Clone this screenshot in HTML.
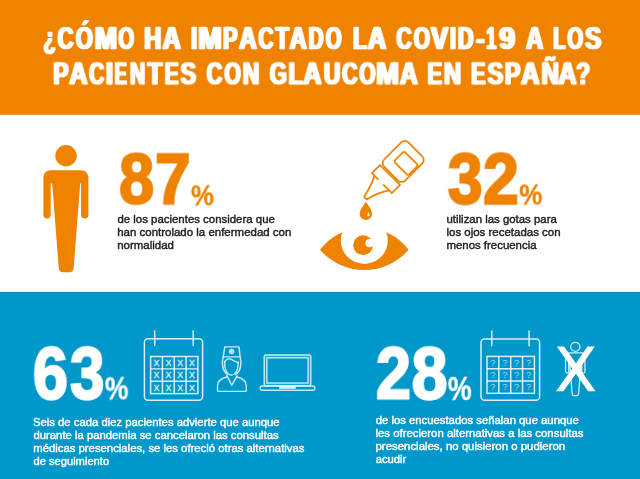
<!DOCTYPE html>
<html><head><meta charset="utf-8">
<style>
html,body{margin:0;padding:0;}
body{width:640px;height:479px;position:relative;overflow:hidden;background:#fff;font-family:"Liberation Sans",sans-serif;}
.abs{position:absolute;}
.x{position:absolute;left:0;top:0;white-space:nowrap;transform-origin:0 0;will-change:transform;}
#hdr{left:0;top:0;width:640px;height:114px;background:#EF8300;}
#hdrsh{left:0;top:114px;width:640px;height:2px;background:linear-gradient(#d98f2c 0%,#e8ab55 45%,#fcefd6 55%,#fffdf8 100%);}
#blue{left:0;top:292px;width:640px;height:187px;background:#0097CB;}
#bluesh{left:0;top:291px;width:640px;height:2px;background:linear-gradient(#f4fafc 0%,#cfe8f1 45%,#2a86ad 55%,#0b82b3 100%);}
svg{position:absolute;left:0;top:0;}
</style></head><body>
<div class="abs" id="hdr"></div>
<div class="abs" id="hdrsh"></div>
<div class="abs" id="blue"></div>
<div class="abs" id="bluesh"></div>
<svg width="640" height="479" viewBox="0 0 640 479">
<defs>
<g id="person"><circle cx="66.0" cy="155.7" r="10.7"/><path d="M50.3,170.2 H81.5 A6.9,6.9 0 0 1 88.4,177.1 V214.75 A3.65,3.65 0 0 1 81.1,214.75 V183.4 H80.2 L73.7,267.5 Q73.4,272.2 69.5,272.2 H62.9 Q59,272.2 58.7,267.5 L52.2,183.4 H50.7 V214.75 A3.65,3.65 0 0 1 43.4,214.75 V177.1 A6.9,6.9 0 0 1 50.3,170.2 Z"/></g>
</defs>
<!-- orange person -->
<use href="#person" fill="#EF8300"/>

<!-- bottle -->
<g transform="translate(366.2,196.7) rotate(-45)" fill="none" stroke="#EF8300" stroke-width="1.75" stroke-linejoin="round">
<path d="M20.7,-9.2 C16,-6.2 8,-3.6 0.4,-1.9 A2.4,2.4 0 0 0 0.4,2.9 C7,4.2 15,8 20.7,11.8"/>
<path d="M20.7,-3.5 V-12.6 H32.2 V15.6 H20.7 V3.3"/>
<rect x="34.0" y="-13.6" width="34.2" height="29.7" rx="5"/>
<rect x="44.5" y="-5.4" width="14.5" height="20" rx="2"/>
</g>
<!-- eye -->
<path d="M320,249.8 A55.6,55.6 0 0 1 408.6,249.8 A58.5,58.5 0 0 1 320,249.8 Z" fill="#EF8300"/>
<circle cx="364.3" cy="240.4" r="23.5" fill="#fff"/>
<circle cx="363.1" cy="245.2" r="9.9" fill="#EF8300"/>
<circle cx="369.6" cy="243.2" r="4.1" fill="#fff"/>

<!-- drop -->
<path d="M365.9,201.5 C364.5,204.5 359.7,209.5 359.7,213.9 A6.2,6.2 0 0 0 372.1,213.9 C372.1,209.5 367.3,204.5 365.9,201.5 Z" fill="#EF8300"/>
<path d="M368.4,212 C367.7,213.5 367.3,214.6 367.3,215.3 A1.1,1.1 0 0 0 369.5,215.3 C369.5,214.6 369.1,213.5 368.4,212 Z" fill="#fff"/>
<!-- calendar 1 -->
<g fill="none" stroke="rgba(255,255,255,0.86)" stroke-width="1.45"><rect x="144.4" y="338.7" width="58.20" height="61.50" rx="3.6"/><path d="M154.7,330.9 V345.4" stroke-linecap="round"/><path d="M193.2,330.9 V345.4" stroke-linecap="round"/><rect x="150.6" y="356.5" width="47.30" height="37.10"/><path d="M162.43,356.5 V393.6"/><path d="M174.25,356.5 V393.6"/><path d="M186.07,356.5 V393.6"/><path d="M150.6,368.87 H197.9"/><path d="M150.6,381.23 H197.9"/></g><g fill="rgba(255,255,255,0.86)" font-family="Liberation Sans" font-size="8.8" font-weight="normal" text-anchor="middle" stroke="rgba(255,255,255,0.86)" stroke-width="0.3" opacity="0.95"><text x="156.51" y="365.83">X</text><text x="168.34" y="365.83">X</text><text x="180.16" y="365.83">X</text><text x="191.99" y="365.83">X</text><text x="156.51" y="378.20">X</text><text x="168.34" y="378.20">X</text><text x="180.16" y="378.20">X</text><text x="191.99" y="378.20">X</text><text x="156.51" y="390.57">X</text><text x="168.34" y="390.57">X</text><text x="180.16" y="390.57">X</text><text x="191.99" y="390.57">X</text></g>
<!-- nurse -->
<g fill="none" stroke="rgba(255,255,255,0.8)" stroke-width="1.4" stroke-linejoin="round" stroke-linecap="round">
<path d="M224.8,346.9 H239 L240.1,356.9 H223.2 Z"/>
<circle cx="231.6" cy="351.5" r="2"/>
<path d="M231.6,350.3 V352.7 M230.4,351.5 H232.8" stroke-width="0.8"/>
<path d="M223.2,356.9 C222.3,360 222.2,364 222.8,367 C223.5,370.5 225.5,373 227.5,374.5"/>
<path d="M240.1,356.9 C241,360 241.1,364 240.5,367 C239.8,370.5 237.8,373 235.7,374.5"/>
<path d="M224.6,362 C224.2,368.5 227,375 231.5,375 C236,375 238.6,368.5 238.2,362.5"/>
<path d="M224.6,362 C226,359.3 228.5,358.4 230.8,359.2 C233.5,360.4 236,362 238.2,362.5"/>

<path d="M226.8,375.6 L231.8,385.2 L237.2,375.8"/>
<path d="M227.5,376.8 C222,378 217.5,380.5 217.5,386 V390.4 Q217.5,391.4 218.5,391.4 H245.3 Q246.3,391.4 246.3,390.4 V386 C246.3,380.5 241.8,378 236.3,376.8"/>
</g>
<!-- laptop -->
<g fill="none" stroke="rgba(255,255,255,0.78)" stroke-width="1.4">
<rect x="264.2" y="355" width="46.6" height="30.8" rx="1.4" fill="rgba(255,255,255,0.12)"/>
<rect x="266.9" y="357.8" width="41.2" height="25.2" fill="#0097CB"/>
<rect x="260.2" y="386" width="54.7" height="4.3" rx="2"/>
<rect x="279.1" y="386.6" width="16.7" height="2.2" fill="rgba(255,255,255,0.86)" stroke="none"/>
</g>

<!-- calendar 2 -->
<g fill="none" stroke="rgba(255,255,255,0.86)" stroke-width="1.45"><rect x="481" y="339.0" width="58.60" height="61.20" rx="3.6"/><path d="M491.8,330.9 V345.8" stroke-linecap="round"/><path d="M529.1,330.9 V345.8" stroke-linecap="round"/><rect x="487.0" y="356.4" width="47.40" height="36.90"/><path d="M498.85,356.4 V393.3"/><path d="M510.70,356.4 V393.3"/><path d="M522.55,356.4 V393.3"/><path d="M487.0,368.70 H534.4"/><path d="M487.0,381.00 H534.4"/></g><g fill="rgba(255,255,255,0.86)" font-family="Liberation Sans" font-size="9.2" font-weight="normal" text-anchor="middle" stroke="rgba(255,255,255,0.86)" stroke-width="0.0" opacity="0.75"><text x="492.93" y="365.85">?</text><text x="504.77" y="365.85">?</text><text x="516.62" y="365.85">?</text><text x="528.48" y="365.85">?</text><text x="492.93" y="378.15">?</text><text x="504.77" y="378.15">?</text><text x="516.62" y="378.15">?</text><text x="528.48" y="378.15">?</text><text x="492.93" y="390.45">?</text><text x="504.77" y="390.45">?</text><text x="516.62" y="390.45">?</text><text x="528.48" y="390.45">?</text></g>
<!-- crossed person -->
<g transform="translate(546.92,281.4) scale(0.43,0.42)" fill="none" stroke="rgba(255,255,255,0.85)" stroke-width="2.9"><use href="#person"/></g>
<path d="M556.8,346.4 H564.1 L575.9,363.3 L587.5,346.4 H594.8 L579.6,368.6 L595.5,391.3 H588.2 L575.9,373.8 L563.4,391.3 H556 L572.2,368.6 Z" fill="#fff"/>
</svg>
<div class="x" style="font-size:29px;line-height:29px;font-weight:bold;color:#fff;transform:translate(43.34px,24.16px) scale(0.7040,1.0511);-webkit-text-stroke:0.7px currentColor;text-shadow:0.75px 0 0 currentColor,-0.75px 0 0 currentColor,1.5px 0 0 currentColor,-1.5px 0 0 currentColor;">¿</div>
<div class="x" style="font-size:29px;line-height:29px;font-weight:bold;color:#fff;transform:translate(57.60px,24.16px) scale(0.7567,1.0511);-webkit-text-stroke:0.7px currentColor;text-shadow:0.75px 0 0 currentColor,-0.75px 0 0 currentColor,1.5px 0 0 currentColor,-1.5px 0 0 currentColor;">C</div>
<div class="x" style="font-size:29px;line-height:29px;font-weight:bold;color:#fff;transform:translate(75.76px,24.16px) scale(0.7575,1.0511);-webkit-text-stroke:0.7px currentColor;text-shadow:0.75px 0 0 currentColor,-0.75px 0 0 currentColor,1.5px 0 0 currentColor,-1.5px 0 0 currentColor;">Ó</div>
<div class="x" style="font-size:29px;line-height:29px;font-weight:bold;color:#fff;transform:translate(94.74px,24.16px) scale(0.9197,1.0511);-webkit-text-stroke:0.7px currentColor;text-shadow:0.75px 0 0 currentColor,-0.75px 0 0 currentColor,1.5px 0 0 currentColor,-1.5px 0 0 currentColor;">M</div>
<div class="x" style="font-size:29px;line-height:29px;font-weight:bold;color:#fff;transform:translate(118.46px,24.16px) scale(0.6893,1.0511);-webkit-text-stroke:0.7px currentColor;text-shadow:0.75px 0 0 currentColor,-0.75px 0 0 currentColor,1.5px 0 0 currentColor,-1.5px 0 0 currentColor;">O</div>
<div class="x" style="font-size:29px;line-height:29px;font-weight:bold;color:#fff;transform:translate(144.28px,24.16px) scale(0.8089,1.0511);-webkit-text-stroke:0.7px currentColor;text-shadow:0.75px 0 0 currentColor,-0.75px 0 0 currentColor,1.5px 0 0 currentColor,-1.5px 0 0 currentColor;">H</div>
<div class="x" style="font-size:29px;line-height:29px;font-weight:bold;color:#fff;transform:translate(162.66px,24.16px) scale(0.8602,1.0511);-webkit-text-stroke:0.7px currentColor;text-shadow:0.75px 0 0 currentColor,-0.75px 0 0 currentColor,1.5px 0 0 currentColor,-1.5px 0 0 currentColor;">A</div>
<div class="x" style="font-size:29px;line-height:29px;font-weight:bold;color:#fff;transform:translate(190.93px,24.16px) scale(0.7840,1.0511);-webkit-text-stroke:0.7px currentColor;text-shadow:0.75px 0 0 currentColor,-0.75px 0 0 currentColor,1.5px 0 0 currentColor,-1.5px 0 0 currentColor;">I</div>
<div class="x" style="font-size:29px;line-height:29px;font-weight:bold;color:#fff;transform:translate(198.40px,24.16px) scale(0.9640,1.0511);-webkit-text-stroke:0.7px currentColor;text-shadow:0.75px 0 0 currentColor,-0.75px 0 0 currentColor,1.5px 0 0 currentColor,-1.5px 0 0 currentColor;">M</div>
<div class="x" style="font-size:29px;line-height:29px;font-weight:bold;color:#fff;transform:translate(223.00px,24.16px) scale(0.7487,1.0511);-webkit-text-stroke:0.7px currentColor;text-shadow:0.75px 0 0 currentColor,-0.75px 0 0 currentColor,1.5px 0 0 currentColor,-1.5px 0 0 currentColor;">P</div>
<div class="x" style="font-size:29px;line-height:29px;font-weight:bold;color:#fff;transform:translate(239.15px,24.16px) scale(0.8389,1.0511);-webkit-text-stroke:0.7px currentColor;text-shadow:0.75px 0 0 currentColor,-0.75px 0 0 currentColor,1.5px 0 0 currentColor,-1.5px 0 0 currentColor;">A</div>
<div class="x" style="font-size:29px;line-height:29px;font-weight:bold;color:#fff;transform:translate(258.51px,24.16px) scale(0.7171,1.0511);-webkit-text-stroke:0.7px currentColor;text-shadow:0.75px 0 0 currentColor,-0.75px 0 0 currentColor,1.5px 0 0 currentColor,-1.5px 0 0 currentColor;">C</div>
<div class="x" style="font-size:29px;line-height:29px;font-weight:bold;color:#fff;transform:translate(275.54px,24.16px) scale(0.7492,1.0511);-webkit-text-stroke:0.7px currentColor;text-shadow:0.75px 0 0 currentColor,-0.75px 0 0 currentColor,1.5px 0 0 currentColor,-1.5px 0 0 currentColor;">T</div>
<div class="x" style="font-size:29px;line-height:29px;font-weight:bold;color:#fff;transform:translate(289.59px,24.16px) scale(0.8185,1.0511);-webkit-text-stroke:0.7px currentColor;text-shadow:0.75px 0 0 currentColor,-0.75px 0 0 currentColor,1.5px 0 0 currentColor,-1.5px 0 0 currentColor;">A</div>
<div class="x" style="font-size:29px;line-height:29px;font-weight:bold;color:#fff;transform:translate(308.57px,24.16px) scale(0.7134,1.0511);-webkit-text-stroke:0.7px currentColor;text-shadow:0.75px 0 0 currentColor,-0.75px 0 0 currentColor,1.5px 0 0 currentColor,-1.5px 0 0 currentColor;">D</div>
<div class="x" style="font-size:29px;line-height:29px;font-weight:bold;color:#fff;transform:translate(325.73px,24.16px) scale(0.7030,1.0511);-webkit-text-stroke:0.7px currentColor;text-shadow:0.75px 0 0 currentColor,-0.75px 0 0 currentColor,1.5px 0 0 currentColor,-1.5px 0 0 currentColor;">O</div>
<div class="x" style="font-size:29px;line-height:29px;font-weight:bold;color:#fff;transform:translate(352.92px,24.16px) scale(0.7846,1.0511);-webkit-text-stroke:0.7px currentColor;text-shadow:0.75px 0 0 currentColor,-0.75px 0 0 currentColor,1.5px 0 0 currentColor,-1.5px 0 0 currentColor;">L</div>
<div class="x" style="font-size:29px;line-height:29px;font-weight:bold;color:#fff;transform:translate(367.68px,24.16px) scale(0.8826,1.0511);-webkit-text-stroke:0.7px currentColor;text-shadow:0.75px 0 0 currentColor,-0.75px 0 0 currentColor,1.5px 0 0 currentColor,-1.5px 0 0 currentColor;">A</div>
<div class="x" style="font-size:29px;line-height:29px;font-weight:bold;color:#fff;transform:translate(396.44px,24.16px) scale(0.7288,1.0511);-webkit-text-stroke:0.7px currentColor;text-shadow:0.75px 0 0 currentColor,-0.75px 0 0 currentColor,1.5px 0 0 currentColor,-1.5px 0 0 currentColor;">C</div>
<div class="x" style="font-size:29px;line-height:29px;font-weight:bold;color:#fff;transform:translate(413.74px,24.16px) scale(0.7190,1.0511);-webkit-text-stroke:0.7px currentColor;text-shadow:0.75px 0 0 currentColor,-0.75px 0 0 currentColor,1.5px 0 0 currentColor,-1.5px 0 0 currentColor;">O</div>
<div class="x" style="font-size:29px;line-height:29px;font-weight:bold;color:#fff;transform:translate(431.07px,24.16px) scale(0.8765,1.0511);-webkit-text-stroke:0.7px currentColor;text-shadow:0.75px 0 0 currentColor,-0.75px 0 0 currentColor,1.5px 0 0 currentColor,-1.5px 0 0 currentColor;">V</div>
<div class="x" style="font-size:29px;line-height:29px;font-weight:bold;color:#fff;transform:translate(449.84px,24.16px) scale(0.7738,1.0511);-webkit-text-stroke:0.7px currentColor;text-shadow:0.75px 0 0 currentColor,-0.75px 0 0 currentColor,1.5px 0 0 currentColor,-1.5px 0 0 currentColor;">I</div>
<div class="x" style="font-size:29px;line-height:29px;font-weight:bold;color:#fff;transform:translate(457.71px,24.16px) scale(0.7563,1.0511);-webkit-text-stroke:0.7px currentColor;text-shadow:0.75px 0 0 currentColor,-0.75px 0 0 currentColor,1.5px 0 0 currentColor,-1.5px 0 0 currentColor;">D</div>
<div class="x" style="font-size:29px;line-height:29px;font-weight:bold;color:#fff;transform:translate(476.21px,24.16px) scale(0.8491,1.0511);-webkit-text-stroke:0.7px currentColor;text-shadow:0.75px 0 0 currentColor,-0.75px 0 0 currentColor,1.5px 0 0 currentColor,-1.5px 0 0 currentColor;">-</div>
<div class="x" style="font-size:29px;line-height:29px;font-weight:bold;color:#fff;transform:translate(486.22px,24.16px) scale(0.6240,1.0511);-webkit-text-stroke:0.7px currentColor;text-shadow:0.75px 0 0 currentColor,-0.75px 0 0 currentColor,1.5px 0 0 currentColor,-1.5px 0 0 currentColor;">1</div>
<div class="x" style="font-size:29px;line-height:29px;font-weight:bold;color:#fff;transform:translate(499.26px,24.16px) scale(0.9721,1.0511);-webkit-text-stroke:0.7px currentColor;text-shadow:0.75px 0 0 currentColor,-0.75px 0 0 currentColor,1.5px 0 0 currentColor,-1.5px 0 0 currentColor;">9</div>
<div class="x" style="font-size:29px;line-height:29px;font-weight:bold;color:#fff;transform:translate(526.00px,24.16px) scale(0.8233,1.0511);-webkit-text-stroke:0.7px currentColor;text-shadow:0.75px 0 0 currentColor,-0.75px 0 0 currentColor,1.5px 0 0 currentColor,-1.5px 0 0 currentColor;">A</div>
<div class="x" style="font-size:29px;line-height:29px;font-weight:bold;color:#fff;transform:translate(553.19px,24.16px) scale(0.6855,1.0511);-webkit-text-stroke:0.7px currentColor;text-shadow:0.75px 0 0 currentColor,-0.75px 0 0 currentColor,1.5px 0 0 currentColor,-1.5px 0 0 currentColor;">L</div>
<div class="x" style="font-size:29px;line-height:29px;font-weight:bold;color:#fff;transform:translate(567.46px,24.16px) scale(0.6917,1.0511);-webkit-text-stroke:0.7px currentColor;text-shadow:0.75px 0 0 currentColor,-0.75px 0 0 currentColor,1.5px 0 0 currentColor,-1.5px 0 0 currentColor;">O</div>
<div class="x" style="font-size:29px;line-height:29px;font-weight:bold;color:#fff;transform:translate(585.22px,24.16px) scale(0.8311,1.0511);-webkit-text-stroke:0.7px currentColor;text-shadow:0.75px 0 0 currentColor,-0.75px 0 0 currentColor,1.5px 0 0 currentColor,-1.5px 0 0 currentColor;">S</div>
<div class="x" style="font-size:30.5px;line-height:30.5px;font-weight:bold;color:#fff;transform:translate(53.33px,57.36px) scale(0.7491,1.0184);-webkit-text-stroke:0.7px currentColor;text-shadow:0.75px 0 0 currentColor,-0.75px 0 0 currentColor,1.5px 0 0 currentColor,-1.5px 0 0 currentColor;">P</div>
<div class="x" style="font-size:30.5px;line-height:30.5px;font-weight:bold;color:#fff;transform:translate(69.30px,57.36px) scale(0.8271,1.0184);-webkit-text-stroke:0.7px currentColor;text-shadow:0.75px 0 0 currentColor,-0.75px 0 0 currentColor,1.5px 0 0 currentColor,-1.5px 0 0 currentColor;">A</div>
<div class="x" style="font-size:30.5px;line-height:30.5px;font-weight:bold;color:#fff;transform:translate(89.10px,57.36px) scale(0.6905,1.0184);-webkit-text-stroke:0.7px currentColor;text-shadow:0.75px 0 0 currentColor,-0.75px 0 0 currentColor,1.5px 0 0 currentColor,-1.5px 0 0 currentColor;">C</div>
<div class="x" style="font-size:30.5px;line-height:30.5px;font-weight:bold;color:#fff;transform:translate(105.81px,57.36px) scale(0.8525,1.0184);-webkit-text-stroke:0.7px currentColor;text-shadow:0.75px 0 0 currentColor,-0.75px 0 0 currentColor,1.5px 0 0 currentColor,-1.5px 0 0 currentColor;">I</div>
<div class="x" style="font-size:30.5px;line-height:30.5px;font-weight:bold;color:#fff;transform:translate(114.62px,57.36px) scale(0.6047,1.0184);-webkit-text-stroke:0.7px currentColor;text-shadow:0.75px 0 0 currentColor,-0.75px 0 0 currentColor,1.5px 0 0 currentColor,-1.5px 0 0 currentColor;">E</div>
<div class="x" style="font-size:30.5px;line-height:30.5px;font-weight:bold;color:#fff;transform:translate(129.90px,57.36px) scale(0.6964,1.0184);-webkit-text-stroke:0.7px currentColor;text-shadow:0.75px 0 0 currentColor,-0.75px 0 0 currentColor,1.5px 0 0 currentColor,-1.5px 0 0 currentColor;">N</div>
<div class="x" style="font-size:30.5px;line-height:30.5px;font-weight:bold;color:#fff;transform:translate(147.60px,57.36px) scale(0.7839,1.0184);-webkit-text-stroke:0.7px currentColor;text-shadow:0.75px 0 0 currentColor,-0.75px 0 0 currentColor,1.5px 0 0 currentColor,-1.5px 0 0 currentColor;">T</div>
<div class="x" style="font-size:30.5px;line-height:30.5px;font-weight:bold;color:#fff;transform:translate(164.73px,57.36px) scale(0.6850,1.0184);-webkit-text-stroke:0.7px currentColor;text-shadow:0.75px 0 0 currentColor,-0.75px 0 0 currentColor,1.5px 0 0 currentColor,-1.5px 0 0 currentColor;">E</div>
<div class="x" style="font-size:30.5px;line-height:30.5px;font-weight:bold;color:#fff;transform:translate(180.57px,57.36px) scale(0.7595,1.0184);-webkit-text-stroke:0.7px currentColor;text-shadow:0.75px 0 0 currentColor,-0.75px 0 0 currentColor,1.5px 0 0 currentColor,-1.5px 0 0 currentColor;">S</div>
<div class="x" style="font-size:30.5px;line-height:30.5px;font-weight:bold;color:#fff;transform:translate(206.66px,57.36px) scale(0.7102,1.0184);-webkit-text-stroke:0.7px currentColor;text-shadow:0.75px 0 0 currentColor,-0.75px 0 0 currentColor,1.5px 0 0 currentColor,-1.5px 0 0 currentColor;">C</div>
<div class="x" style="font-size:30.5px;line-height:30.5px;font-weight:bold;color:#fff;transform:translate(224.38px,57.36px) scale(0.6951,1.0184);-webkit-text-stroke:0.7px currentColor;text-shadow:0.75px 0 0 currentColor,-0.75px 0 0 currentColor,1.5px 0 0 currentColor,-1.5px 0 0 currentColor;">O</div>
<div class="x" style="font-size:30.5px;line-height:30.5px;font-weight:bold;color:#fff;transform:translate(242.73px,57.36px) scale(0.7527,1.0184);-webkit-text-stroke:0.7px currentColor;text-shadow:0.75px 0 0 currentColor,-0.75px 0 0 currentColor,1.5px 0 0 currentColor,-1.5px 0 0 currentColor;">N</div>
<div class="x" style="font-size:30.5px;line-height:30.5px;font-weight:bold;color:#fff;transform:translate(269.74px,57.36px) scale(0.7240,1.0184);-webkit-text-stroke:0.7px currentColor;text-shadow:0.75px 0 0 currentColor,-0.75px 0 0 currentColor,1.5px 0 0 currentColor,-1.5px 0 0 currentColor;">G</div>
<div class="x" style="font-size:30.5px;line-height:30.5px;font-weight:bold;color:#fff;transform:translate(288.53px,57.36px) scale(0.7538,1.0184);-webkit-text-stroke:0.7px currentColor;text-shadow:0.75px 0 0 currentColor,-0.75px 0 0 currentColor,1.5px 0 0 currentColor,-1.5px 0 0 currentColor;">L</div>
<div class="x" style="font-size:30.5px;line-height:30.5px;font-weight:bold;color:#fff;transform:translate(303.13px,57.36px) scale(0.8340,1.0184);-webkit-text-stroke:0.7px currentColor;text-shadow:0.75px 0 0 currentColor,-0.75px 0 0 currentColor,1.5px 0 0 currentColor,-1.5px 0 0 currentColor;">A</div>
<div class="x" style="font-size:30.5px;line-height:30.5px;font-weight:bold;color:#fff;transform:translate(323.75px,57.36px) scale(0.7548,1.0184);-webkit-text-stroke:0.7px currentColor;text-shadow:0.75px 0 0 currentColor,-0.75px 0 0 currentColor,1.5px 0 0 currentColor,-1.5px 0 0 currentColor;">U</div>
<div class="x" style="font-size:30.5px;line-height:30.5px;font-weight:bold;color:#fff;transform:translate(342.14px,57.36px) scale(0.7019,1.0184);-webkit-text-stroke:0.7px currentColor;text-shadow:0.75px 0 0 currentColor,-0.75px 0 0 currentColor,1.5px 0 0 currentColor,-1.5px 0 0 currentColor;">C</div>
<div class="x" style="font-size:30.5px;line-height:30.5px;font-weight:bold;color:#fff;transform:translate(359.32px,57.36px) scale(0.6838,1.0184);-webkit-text-stroke:0.7px currentColor;text-shadow:0.75px 0 0 currentColor,-0.75px 0 0 currentColor,1.5px 0 0 currentColor,-1.5px 0 0 currentColor;">O</div>
<div class="x" style="font-size:30.5px;line-height:30.5px;font-weight:bold;color:#fff;transform:translate(376.32px,57.36px) scale(0.8881,1.0184);-webkit-text-stroke:0.7px currentColor;text-shadow:0.75px 0 0 currentColor,-0.75px 0 0 currentColor,1.5px 0 0 currentColor,-1.5px 0 0 currentColor;">M</div>
<div class="x" style="font-size:30.5px;line-height:30.5px;font-weight:bold;color:#fff;transform:translate(399.90px,57.36px) scale(0.8076,1.0184);-webkit-text-stroke:0.7px currentColor;text-shadow:0.75px 0 0 currentColor,-0.75px 0 0 currentColor,1.5px 0 0 currentColor,-1.5px 0 0 currentColor;">A</div>
<div class="x" style="font-size:30.5px;line-height:30.5px;font-weight:bold;color:#fff;transform:translate(427.53px,57.36px) scale(0.7127,1.0184);-webkit-text-stroke:0.7px currentColor;text-shadow:0.75px 0 0 currentColor,-0.75px 0 0 currentColor,1.5px 0 0 currentColor,-1.5px 0 0 currentColor;">E</div>
<div class="x" style="font-size:30.5px;line-height:30.5px;font-weight:bold;color:#fff;transform:translate(443.87px,57.36px) scale(0.7814,1.0184);-webkit-text-stroke:0.7px currentColor;text-shadow:0.75px 0 0 currentColor,-0.75px 0 0 currentColor,1.5px 0 0 currentColor,-1.5px 0 0 currentColor;">N</div>
<div class="x" style="font-size:30.5px;line-height:30.5px;font-weight:bold;color:#fff;transform:translate(471.04px,57.36px) scale(0.7107,1.0184);-webkit-text-stroke:0.7px currentColor;text-shadow:0.75px 0 0 currentColor,-0.75px 0 0 currentColor,1.5px 0 0 currentColor,-1.5px 0 0 currentColor;">E</div>
<div class="x" style="font-size:30.5px;line-height:30.5px;font-weight:bold;color:#fff;transform:translate(487.57px,57.36px) scale(0.7724,1.0184);-webkit-text-stroke:0.7px currentColor;text-shadow:0.75px 0 0 currentColor,-0.75px 0 0 currentColor,1.5px 0 0 currentColor,-1.5px 0 0 currentColor;">S</div>
<div class="x" style="font-size:30.5px;line-height:30.5px;font-weight:bold;color:#fff;transform:translate(504.88px,57.36px) scale(0.7608,1.0184);-webkit-text-stroke:0.7px currentColor;text-shadow:0.75px 0 0 currentColor,-0.75px 0 0 currentColor,1.5px 0 0 currentColor,-1.5px 0 0 currentColor;">P</div>
<div class="x" style="font-size:30.5px;line-height:30.5px;font-weight:bold;color:#fff;transform:translate(521.13px,57.36px) scale(0.8349,1.0184);-webkit-text-stroke:0.7px currentColor;text-shadow:0.75px 0 0 currentColor,-0.75px 0 0 currentColor,1.5px 0 0 currentColor,-1.5px 0 0 currentColor;">A</div>
<div class="x" style="font-size:30.5px;line-height:30.5px;font-weight:bold;color:#fff;transform:translate(541.53px,57.36px) scale(0.7909,1.0184);-webkit-text-stroke:0.7px currentColor;text-shadow:0.75px 0 0 currentColor,-0.75px 0 0 currentColor,1.5px 0 0 currentColor,-1.5px 0 0 currentColor;">Ñ</div>
<div class="x" style="font-size:30.5px;line-height:30.5px;font-weight:bold;color:#fff;transform:translate(558.47px,57.36px) scale(0.8192,1.0184);-webkit-text-stroke:0.7px currentColor;text-shadow:0.75px 0 0 currentColor,-0.75px 0 0 currentColor,1.5px 0 0 currentColor,-1.5px 0 0 currentColor;">A</div>
<div class="x" style="font-size:30.5px;line-height:30.5px;font-weight:bold;color:#fff;transform:translate(576.26px,57.36px) scale(0.7386,1.0184);-webkit-text-stroke:0.7px currentColor;text-shadow:0.75px 0 0 currentColor,-0.75px 0 0 currentColor,1.5px 0 0 currentColor,-1.5px 0 0 currentColor;">?</div>
<div class="x" style="font-size:75px;line-height:75px;font-weight:bold;color:#EF8300;transform:translate(119.00px,143.01px) scale(0.8414,0.9586);-webkit-text-stroke:2.3px currentColor;">8</div>
<div class="x" style="font-size:75px;line-height:75px;font-weight:bold;color:#EF8300;transform:translate(154.93px,142.65px) scale(0.8575,0.9663);-webkit-text-stroke:2.3px currentColor;">7</div>
<div class="x" style="font-size:29.5px;line-height:29.5px;font-weight:bold;color:#EF8300;transform:translate(190.94px,180.33px) scale(0.8740,1.0057);-webkit-text-stroke:0.3px currentColor;">%</div>
<div class="x" style="font-size:75px;line-height:75px;font-weight:bold;color:#EF8300;transform:translate(447.75px,142.79px) scale(0.8356,0.9643);-webkit-text-stroke:2.3px currentColor;">3</div>
<div class="x" style="font-size:75px;line-height:75px;font-weight:bold;color:#EF8300;transform:translate(482.92px,142.75px) scale(0.8611,0.9663);-webkit-text-stroke:2.3px currentColor;">2</div>
<div class="x" style="font-size:29.5px;line-height:29.5px;font-weight:bold;color:#EF8300;transform:translate(519.19px,179.52px) scale(0.8828,1.0038);-webkit-text-stroke:0.3px currentColor;">%</div>
<div class="x" style="font-size:75px;line-height:75px;font-weight:bold;color:#fff;transform:translate(32.81px,336.26px) scale(0.8428,0.9935);-webkit-text-stroke:2.3px currentColor;">6</div>
<div class="x" style="font-size:75px;line-height:75px;font-weight:bold;color:#fff;transform:translate(69.93px,336.30px) scale(0.8291,0.9927);-webkit-text-stroke:2.3px currentColor;">3</div>
<div class="x" style="font-size:29.5px;line-height:29.5px;font-weight:bold;color:#fff;transform:translate(104.92px,373.39px) scale(0.8950,1.0500);-webkit-text-stroke:0.3px currentColor;">%</div>
<div class="x" style="font-size:75px;line-height:75px;font-weight:bold;color:#fff;transform:translate(375.89px,336.49px) scale(0.8413,0.9819);-webkit-text-stroke:2.3px currentColor;">2</div>
<div class="x" style="font-size:75px;line-height:75px;font-weight:bold;color:#fff;transform:translate(411.59px,336.41px) scale(0.8614,0.9929);-webkit-text-stroke:2.3px currentColor;">8</div>
<div class="x" style="font-size:29.5px;line-height:29.5px;font-weight:bold;color:#fff;transform:translate(447.81px,372.14px) scale(0.9049,1.1159);-webkit-text-stroke:0.3px currentColor;">%</div>
<div class="x" style="font-size:11px;line-height:11px;font-weight:normal;color:#1d1d1b;-webkit-text-stroke:0.4px currentColor;;transform:translate(117.45px,214.00px) scale(1.0377,1.0000);">de los pacientes considera que</div>
<div class="x" style="font-size:11px;line-height:11px;font-weight:normal;color:#1d1d1b;-webkit-text-stroke:0.4px currentColor;;transform:translate(117.20px,227.00px) scale(1.0431,1.0000);">han controlado la enfermedad con</div>
<div class="x" style="font-size:11px;line-height:11px;font-weight:normal;color:#1d1d1b;-webkit-text-stroke:0.4px currentColor;;transform:translate(117.21px,240.00px) scale(1.0436,1.0000);">normalidad</div>
<div class="x" style="font-size:11px;line-height:11px;font-weight:normal;color:#1d1d1b;-webkit-text-stroke:0.4px currentColor;;transform:translate(446.53px,214.00px) scale(1.0361,1.0000);">utilizan las gotas para</div>
<div class="x" style="font-size:11px;line-height:11px;font-weight:normal;color:#1d1d1b;-webkit-text-stroke:0.4px currentColor;;transform:translate(446.46px,227.00px) scale(1.0423,1.0000);">los ojos recetadas con</div>
<div class="x" style="font-size:11px;line-height:11px;font-weight:normal;color:#1d1d1b;-webkit-text-stroke:0.4px currentColor;;transform:translate(446.43px,240.00px) scale(1.0375,1.0000);">menos frecuencia</div>
<div class="x" style="font-size:11px;line-height:11px;font-weight:normal;color:#fff;-webkit-text-stroke:0.4px currentColor;;transform:translate(33.01px,417.00px) scale(1.0258,1.0000);">Seis de cada diez pacientes advierte que aunque</div>
<div class="x" style="font-size:11px;line-height:11px;font-weight:normal;color:#fff;-webkit-text-stroke:0.4px currentColor;;transform:translate(33.46px,430.00px) scale(1.0279,1.0000);">durante la pandemia se cancelaron las consultas</div>
<div class="x" style="font-size:11px;line-height:11px;font-weight:normal;color:#fff;-webkit-text-stroke:0.4px currentColor;;transform:translate(33.22px,443.00px) scale(1.0293,1.0000);">médicas presenciales, se les ofreció otras alternativas</div>
<div class="x" style="font-size:11px;line-height:11px;font-weight:normal;color:#fff;-webkit-text-stroke:0.4px currentColor;;transform:translate(33.47px,456.00px) scale(1.0136,1.0000);">de seguimiento</div>
<div class="x" style="font-size:11px;line-height:11px;font-weight:normal;color:#fff;-webkit-text-stroke:0.4px currentColor;;transform:translate(375.67px,415.00px) scale(1.0284,1.0000);">de los encuestados señalan que aunque</div>
<div class="x" style="font-size:11px;line-height:11px;font-weight:normal;color:#fff;-webkit-text-stroke:0.4px currentColor;;transform:translate(375.48px,428.00px) scale(1.0336,1.0000);">les ofrecieron alternativas a las consultas</div>
<div class="x" style="font-size:11px;line-height:11px;font-weight:normal;color:#fff;-webkit-text-stroke:0.4px currentColor;;transform:translate(375.51px,441.00px) scale(1.0372,1.0000);">presenciales, no quisieron o pudieron</div>
<div class="x" style="font-size:11px;line-height:11px;font-weight:normal;color:#fff;-webkit-text-stroke:0.4px currentColor;;transform:translate(375.67px,454.00px) scale(1.0197,1.0000);">acudir</div>
</body></html>
